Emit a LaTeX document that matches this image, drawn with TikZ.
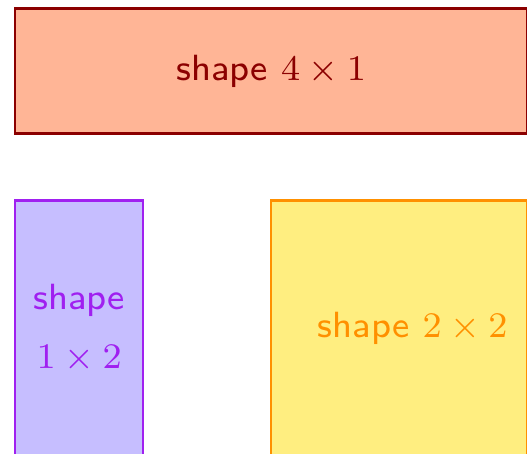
\documentclass[tikz,border=0pt]{standalone}
\usepackage{tikz}
\definecolor{salmon}{HTML}{FFB596}
\definecolor{darkred}{HTML}{8B0000}
\definecolor{lavender}{HTML}{C6BEFF}
\definecolor{violet}{HTML}{A020F0}
\definecolor{lightyellow}{HTML}{FFEE80}
\definecolor{darkorange}{HTML}{FF9000}
\tikzset{
	piece/.style={draw, line width=0.55pt, anchor=north west, inner sep=0pt, align=center,
		font=\sffamily\fontsize{8.1}{11}\selectfont},
}
\begin{document}
\begin{tikzpicture}
	\useasboundingbox (-0.109,0.055) rectangle (4.008,-3.484);
	
	\node[piece, fill=salmon, draw=darkred, text=darkred, minimum width=4cm, minimum height=0.98cm] (big) at (0,0) {shape $4\times1$};
	\node[piece, fill=lavender, draw=violet, text=violet, minimum width=1cm, minimum height=2cm] (tall) at (0,-1.5) {shape\\[2pt]$1\times2$};
	\node[piece, fill=lightyellow, draw=darkorange, text=darkorange, minimum width=2cm, minimum height=2cm] (square) at (2,-1.5) {\hspace{6pt}shape $2\times2$};
\end{tikzpicture}
\end{document}
